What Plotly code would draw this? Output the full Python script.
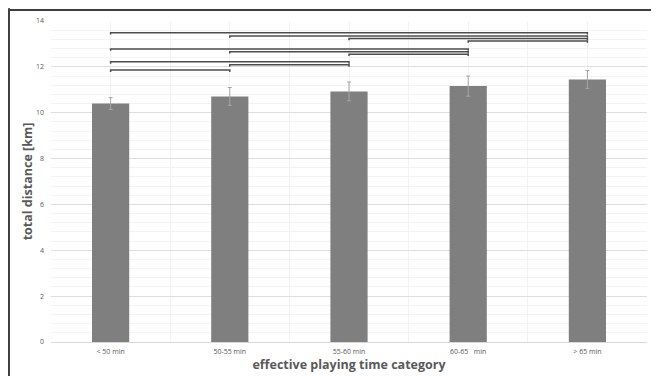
import plotly.graph_objects as go

categories = ["< 50 min", "50-55 min", "55-60 min", "60-65   min", "> 65 min"]
means = [10.40, 10.71, 10.93, 11.16, 11.45]
sd = [0.26, 0.39, 0.41, 0.44, 0.39]

bracket_from = [0, 1, 2, 3, 0, 1, 2, 0, 1, 0]
bracket_to = [4, 4, 4, 4, 3, 3, 3, 2, 2, 1]
bracket_y = [13.49, 13.35, 13.24, 13.13, 12.78, 12.66, 12.55, 12.22, 12.09, 11.86]

y_ticks = [0, 2, 4, 6, 8, 10, 12, 14]

xpos = list(range(len(categories)))
TICK = 0.08

fig = go.Figure()
fig.add_trace(go.Bar(
    x=xpos, y=means, width=0.312,
    marker=dict(color="#7f7f7f", line=dict(width=0)),
    error_y=dict(type="data", array=sd, visible=True, color="#a5a5a5", thickness=1, width=2),
    showlegend=False,
))

for a, b, yv in zip(bracket_from, bracket_to, bracket_y):
    fig.add_trace(go.Scatter(
        x=[a, a, b, b], y=[yv - TICK, yv, yv, yv - TICK],
        mode="lines", line=dict(color="#4d4d4d", width=1.5),
        showlegend=False, hoverinfo="skip",
    ))

fig.update_layout(
    width=651, height=368,
    margin=dict(l=43, r=12, t=13, b=34),
    paper_bgcolor="white", plot_bgcolor="white",
    font=dict(family="Open Sans", color="#595959"),
    xaxis=dict(
        range=[-0.5, len(categories) - 0.5], automargin=False,
        tickmode="array", tickvals=xpos, ticktext=categories,
        tickfont=dict(size=7, color="#595959"),
        showgrid=True, gridcolor="#f2f2f2", gridwidth=1,
        minor=dict(tick0=-0.5, dtick=1, showgrid=True, gridcolor="#f2f2f2", gridwidth=1),
        zeroline=False, showline=False, ticks="", ticklabelstandoff=4,
        title=dict(text="<b>effective playing time category</b>", font=dict(size=12.5, color="#595959"), standoff=5),
    ),
    yaxis=dict(
        range=[0, 14], tickmode="array", tickvals=y_ticks, automargin=False,
        tickfont=dict(size=7, color="#595959"),
        showgrid=True, gridcolor="#dedede", gridwidth=1,
        minor=dict(dtick=0.4, tick0=0, showgrid=True, gridcolor="#f3f3f3", gridwidth=1),
        zeroline=True, zerolinecolor="#d9d9d9", zerolinewidth=1,
        showline=False, ticks="", ticklabelstandoff=6,
        title=dict(text="<b>total distance [km]</b>", font=dict(size=12.5, color="#595959"), standoff=0),
    ),
    shapes=[
        dict(type="line", xref="paper", yref="paper", x0=-0.0705, x1=-0.0705, y0=1.04, y1=-0.2,
             line=dict(color="#3f3f3f", width=2)),
        dict(type="line", xref="paper", yref="paper", x0=-0.0705, x1=1.03, y0=1.0343, y1=1.0343,
             line=dict(color="#3f3f3f", width=2)),
    ],
)

fig.write_html("out.html")
